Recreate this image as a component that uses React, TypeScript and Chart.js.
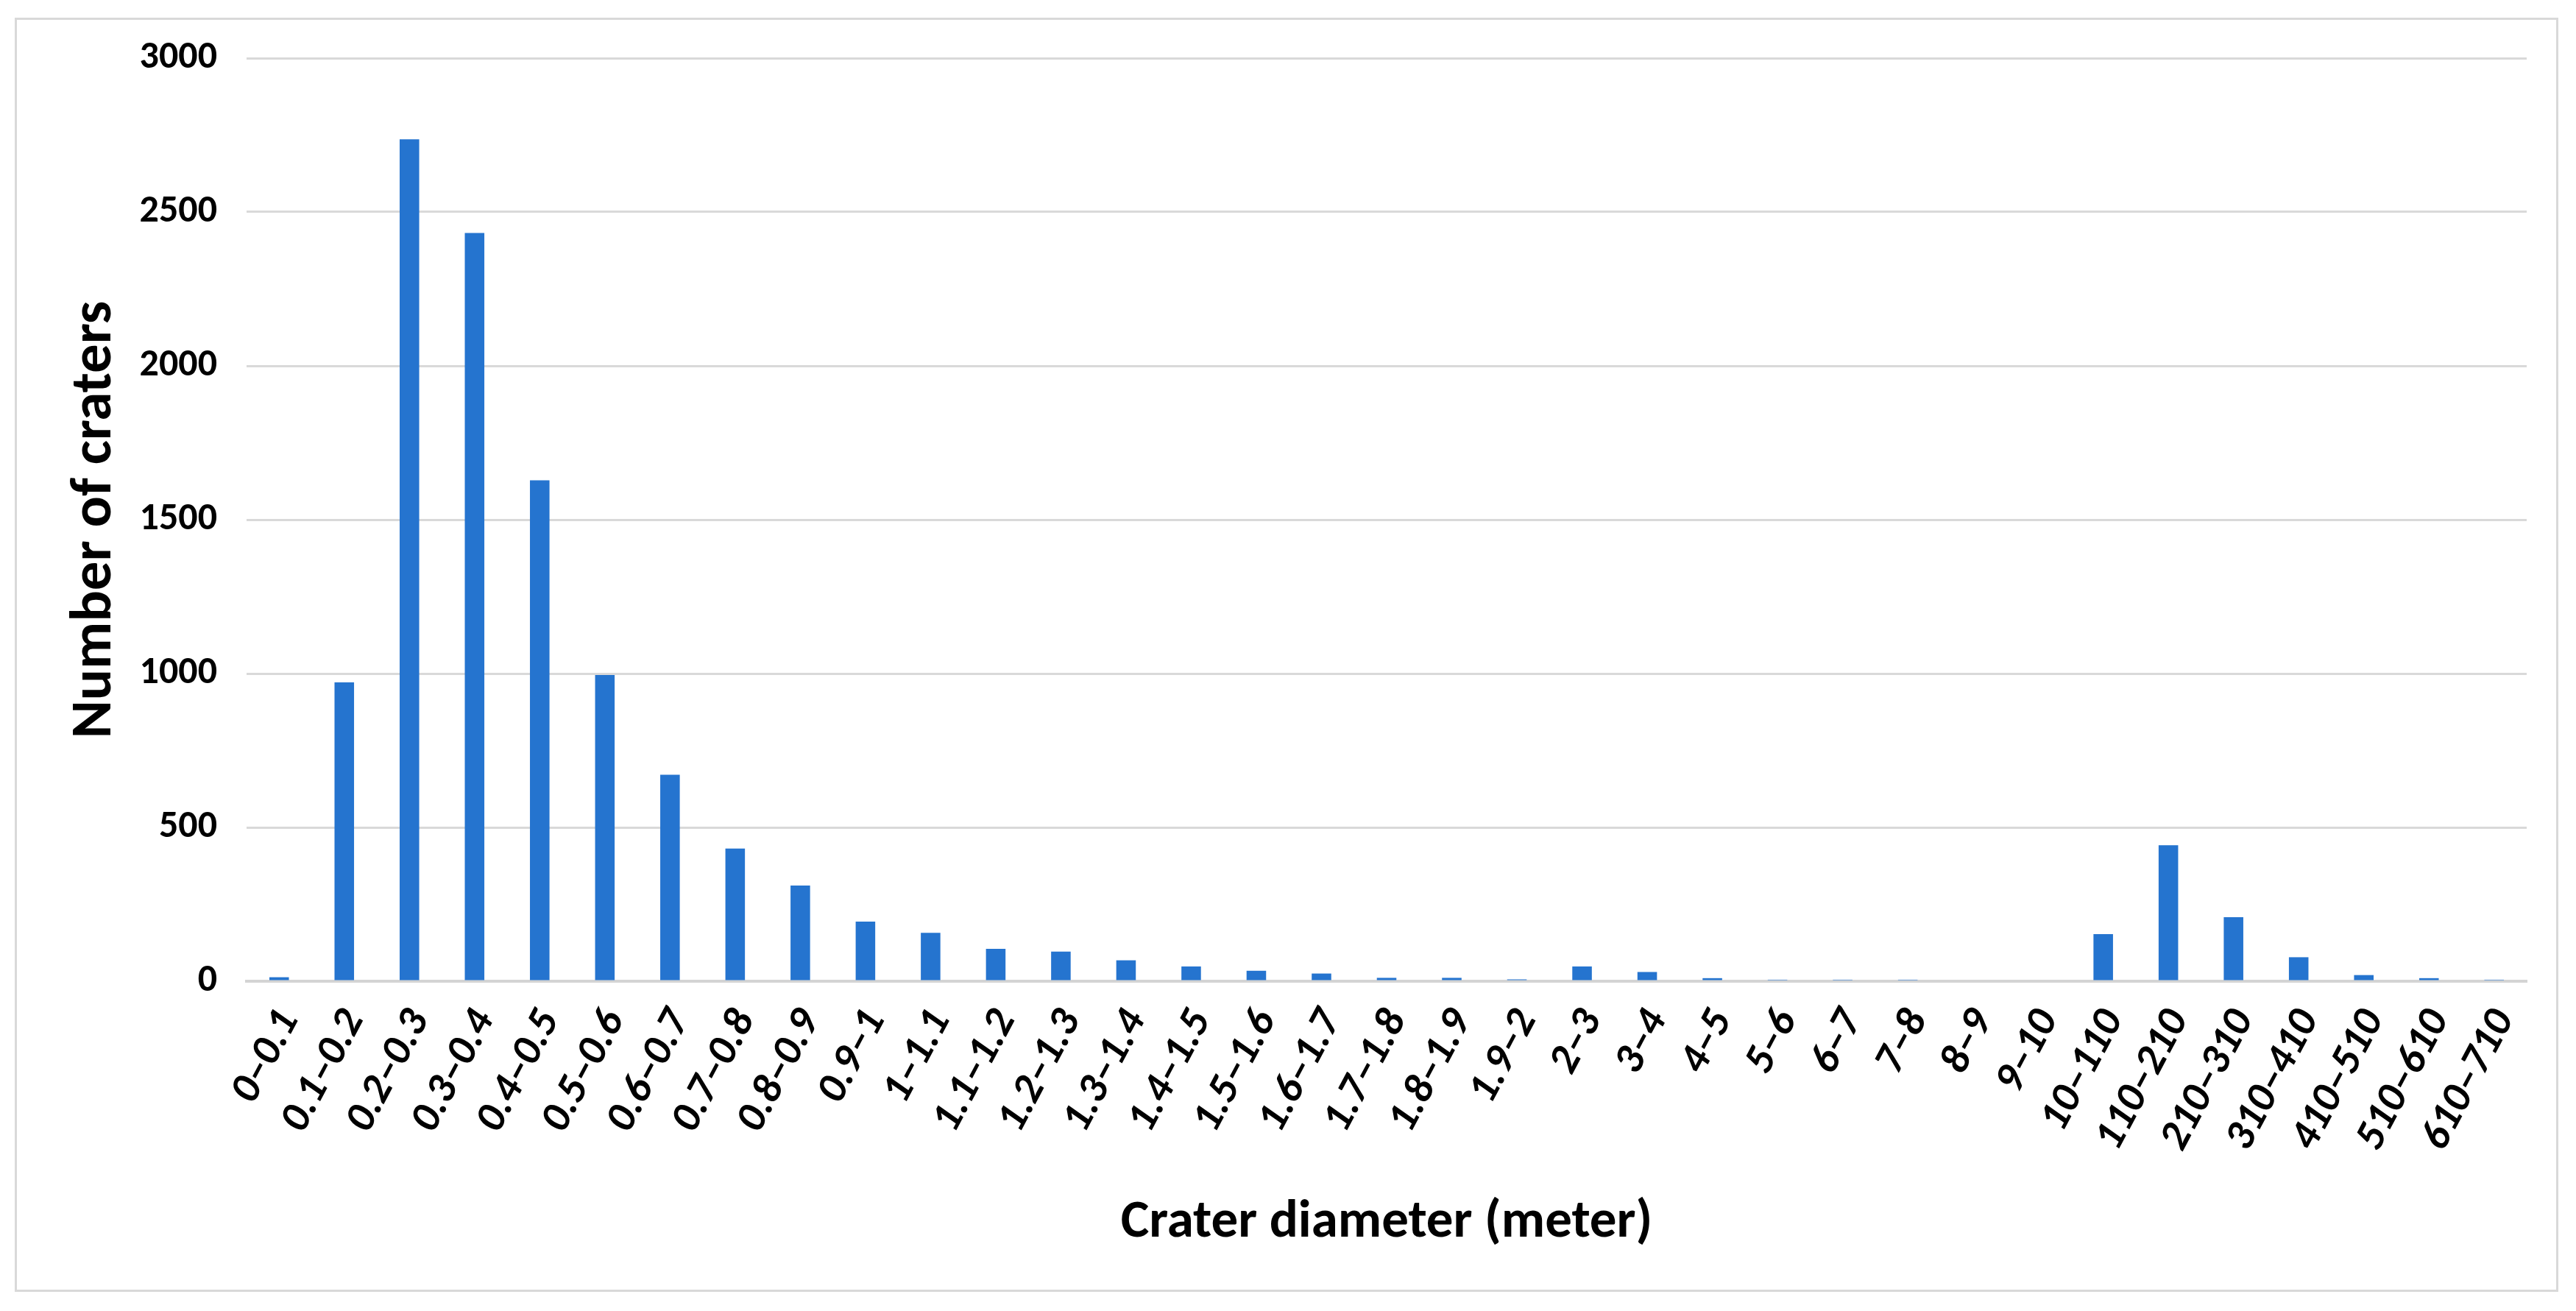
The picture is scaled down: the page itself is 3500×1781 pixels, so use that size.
import React, { useEffect, useRef } from "react";
import { Chart, registerables } from "chart.js";

Chart.register(...registerables);

const categories: string[] = [
  "0–0.1", "0.1–0.2", "0.2–0.3", "0.3–0.4", "0.4–0.5", "0.5–0.6", "0.6–0.7", "0.7–0.8", "0.8–0.9", "0.9–1",
  "1–1.1", "1.1–1.2", "1.2–1.3", "1.3–1.4", "1.4–1.5", "1.5–1.6", "1.6–1.7", "1.7–1.8", "1.8–1.9", "1.9–2",
  "2–3", "3–4", "4–5", "5–6", "6–7", "7–8", "8–9", "9–10",
  "10–110", "110–210", "210–310", "310–410", "410–510", "510–610", "610–710",
];

const craterCounts: number[] = [
  13, 971, 2736, 2432, 1628, 995, 671, 431, 311, 194,
  157, 105, 96, 68, 48, 34, 25, 11, 11, 6,
  48, 30, 10, 5, 5, 5, 0, 0,
  153, 442, 208, 78, 20, 10, 5,
];

const yTicks: number[] = [0, 500, 1000, 1500, 2000, 2500, 3000];

const xTitle = "Crater diameter (meter)";
const yTitle = "Number of craters";

const W = 3500;
const H = 1781;
const FONT = "Carlito, Lato, 'Open Sans', sans-serif";

export default function App() {
  const ref = useRef<HTMLCanvasElement | null>(null);

  useEffect(() => {
    document.body.style.margin = "0";
    document.body.style.background = "#ffffff";
    const canvas = ref.current;
    if (!canvas) return;
    const chart = new Chart(canvas, {
      type: "bar",
      data: {
        labels: categories,
        datasets: [
          {
            label: "Number of craters",
            data: craterCounts,
            backgroundColor: "#2574cf",
            borderWidth: 0,
            categoryPercentage: 1,
            barPercentage: 0.3,
          },
        ],
      },
      options: {
        responsive: false,
        animation: false,
        devicePixelRatio: 1,
        layout: { padding: { left: 0, top: 79, right: 67, bottom: 0 } },
        plugins: {
          legend: { display: false },
          tooltip: { enabled: false },
          title: { display: false },
        },
        scales: {
          x: {
            type: "category",
            offset: true,
            grid: { display: false, drawTicks: false },
            border: { display: true, color: "#d4d4d4", width: 4 },
            ticks: {
              autoSkip: false,
              minRotation: 62,
              maxRotation: 62,
              padding: 28,
              labelOffset: 14,
              color: "#000000",
              font: { family: FONT, size: 58, weight: "bold", style: "italic" },
            },
            title: {
              display: true,
              text: xTitle,
              color: "#000000",
              font: { family: FONT, size: 73, weight: "bold" },
              padding: { top: 0, bottom: 75 },
            },
            afterFit: (scale: any) => {
              scale.height = H - 1333;
            },
          },
          y: {
            min: 0,
            max: 3000,
            afterBuildTicks: (scale: any) => {
              scale.ticks = yTicks.map((v) => ({ value: v }));
            },
            grid: { color: "#d9d9d9", lineWidth: 3, drawTicks: false },
            border: { display: false },
            ticks: {
              padding: 40,
              color: "#000000",
              font: { family: FONT, size: 52, weight: "bold" },
              callback: (v: any) => String(v),
            },
            title: {
              display: true,
              text: yTitle,
              color: "#000000",
              font: { family: FONT, size: 79, weight: "bold" },
              padding: { top: 83, bottom: 83 },
            },
            afterFit: (scale: any) => {
              scale.width = 335;
            },
          },
        },
      },
    });
    return () => chart.destroy();
  }, []);

  return (
    <div style={{ position: "relative", width: W, height: H, background: "#ffffff" }}>
      <canvas ref={ref} width={W} height={H} style={{ position: "absolute", left: 0, top: 0, width: W, height: H }} />
      <div
        style={{
          position: "absolute",
          left: 20,
          top: 24,
          width: 3456,
          height: 1731,
          border: "3px solid #d9d9d9",
          boxSizing: "border-box",
          pointerEvents: "none",
        }}
      />
    </div>
  );
}
